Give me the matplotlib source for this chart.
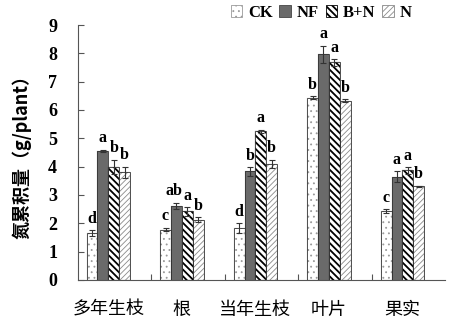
import numpy as np
import matplotlib.pyplot as plt

plt.rcParams['font.family'] = ['Liberation Serif', 'Noto Sans CJK SC']

categories = ['多年生枝', '根', '当年生枝', '叶片', '果实']
series = ['CK', 'NF', 'B+N', 'N']
values = {
    'CK':  [1.65, 1.78, 1.83, 6.43, 2.42],
    'NF':  [4.55, 2.62, 3.83, 7.97, 3.65],
    'B+N': [4.00, 2.42, 5.25, 7.68, 3.87],
    'N':   [3.80, 2.13, 4.10, 6.33, 3.30],
}
errors = {
    'CK':  [0.10, 0.07, 0.18, 0.05, 0.07],
    'NF':  [0.05, 0.10, 0.15, 0.30, 0.18],
    'B+N': [0.25, 0.15, 0.05, 0.12, 0.12],
    'N':   [0.20, 0.08, 0.15, 0.05, 0.03],
}
letters = {
    'CK':  ['d', 'c', 'd', 'b', 'c'],
    'NF':  ['a', 'ab', 'b', 'a', 'a'],
    'B+N': ['b', 'a', 'a', 'a', 'a'],
    'N':   ['b', 'b', 'b', 'b', 'b'],
}

BS = chr(92)
styles = {
    'CK':  dict(face='white', hatch='...', hcolor='#9a9a9a', hlw=0.6),
    'NF':  dict(face='#6a6a6a', hatch=None, hcolor='#6a6a6a', hlw=0.6),
    'B+N': dict(face='white', hatch=BS * 5, hcolor='black', hlw=1.3),
    'N':   dict(face='white', hatch='//////', hcolor='#8a8a8a', hlw=0.6),
}

fig = plt.figure(figsize=(4.5, 3.21), dpi=100)
ax = fig.add_axes([0.173, 0.128, 0.816, 0.794])

x = np.arange(len(categories))
w = 0.148
for i, s in enumerate(series):
    st = styles[s]
    pos = x + (i - 1.5) * w
    hb = ax.bar(pos, values[s], w, color=st['face'], hatch=st['hatch'],
                edgecolor=st['hcolor'], linewidth=0.1, zorder=2)
    for p in hb:
        p.set_hatch_linewidth(st['hlw'])
    ax.bar(pos, values[s], w, color='none', edgecolor='#333333', linewidth=0.6,
           zorder=3)
    ax.errorbar(pos, values[s], yerr=errors[s], fmt='none', ecolor='#333333',
                elinewidth=0.8, capsize=2.5, capthick=0.8, zorder=4)
    for xp, v, e, t in zip(pos, values[s], errors[s], letters[s]):
        dx = -0.035 if t == 'ab' else 0
        ax.text(xp + dx, v + e + 0.12, t, ha='center', va='bottom',
                fontsize=11.5, fontweight='bold')

# legend proxies
handles = []
for s in series:
    st = styles[s]
    h = plt.Rectangle((0, 0), 1, 1, facecolor=st['face'], hatch=st['hatch'],
                      edgecolor='#333333', linewidth=0.6)
    handles.append(h)
leg = ax.legend(handles, series, loc='upper right', bbox_to_anchor=(0.928, 1.105),
                ncol=4, frameon=False, handlelength=0.7, handleheight=0.7,
                handletextpad=0.35, columnspacing=0.4, borderaxespad=0,
                prop={'family': 'Liberation Serif', 'weight': 'bold', 'size': 12})
for p, s in zip(leg.get_patches(), series):
    p.set_edgecolor(styles[s]['hcolor'] if s != 'NF' else '#444444')
    p.set_hatch_linewidth(styles[s]['hlw'])

ax.set_xlim(-0.415, 4.58)
ax.set_ylim(0, 9)
ax.set_yticks(range(10))
ax.set_yticklabels([str(i) for i in range(10)], fontsize=13, fontweight='bold')
ax.set_xticks(x[:-1] + 0.585)
ax.set_xticklabels([])
ax.set_xticks(x, minor=True)
ax.set_xticklabels(categories, minor=True, fontsize=13,
                   family=['Noto Sans CJK SC'])
ax.tick_params(axis='x', which='minor', length=0, pad=15)
ax.tick_params(axis='x', which='major', direction='in', length=4, color='#555555')
ax.tick_params(axis='y', direction='in', length=4, color='#555555', pad=15)

for side in ['top', 'right']:
    ax.spines[side].set_visible(False)
for side in ['left', 'bottom']:
    ax.spines[side].set_color('#555555')
    ax.spines[side].set_linewidth(0.8)

ax.set_ylabel('氮累积量（g/plant）', fontsize=13, fontweight='bold',
              family=['Noto Sans CJK SC', 'Liberation Serif'], labelpad=12)

plt.savefig('out.png', dpi=100)
